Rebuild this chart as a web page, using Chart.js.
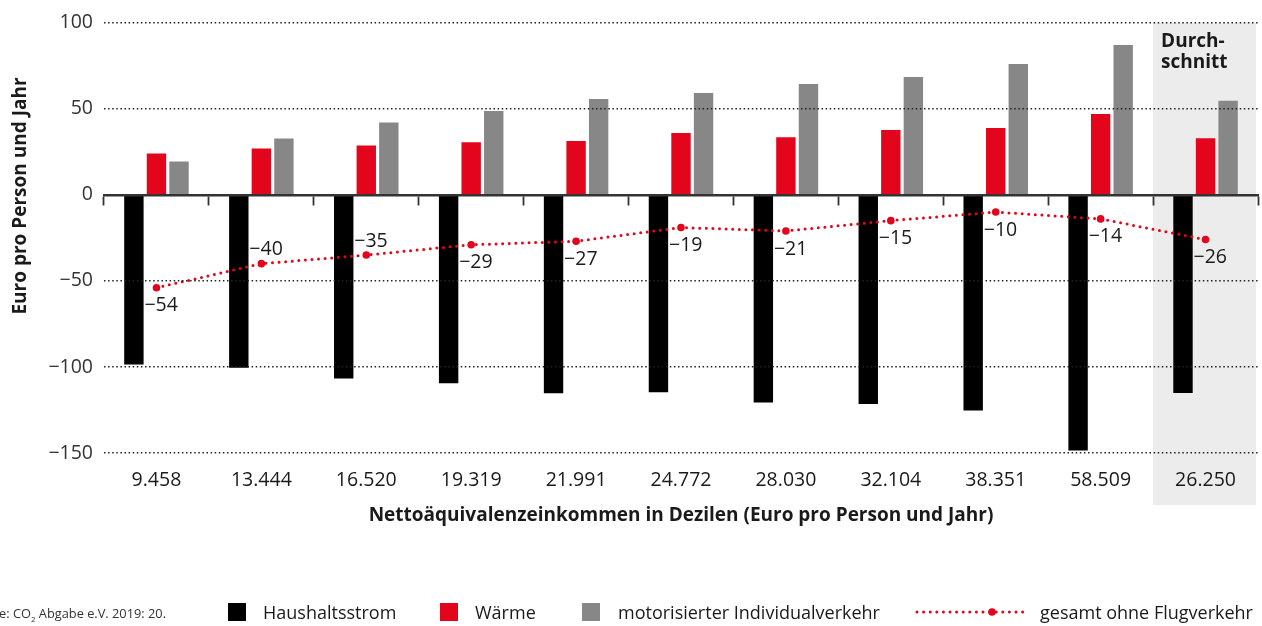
<!DOCTYPE html>
<html lang="de">
<head>
<meta charset="utf-8">
<title>CO2-Abgabe nach Dezilen</title>
<script src="https://cdn.jsdelivr.net/npm/chart.js@4.4.1/dist/chart.umd.min.js"></script>
<style>
  html, body { margin: 0; padding: 0; background: #fff; overflow: hidden; }
  body { width: 1262px; height: 626px; position: relative; font-family: 'Open Sans', sans-serif; color: #1a1a1a; }
  #wrap { position: absolute; left: 0; top: 0; width: 1262px; height: 626px; }
  .quelle { position: absolute; left: -134px; width: 300px; top: 603px; text-align: right; font-size: 12.8px; line-height: 20px; color: #333; white-space: nowrap; }
  .leg { position: absolute; top: 600px; height: 24px; font-size: 18px; line-height: 24px; white-space: nowrap; }
  .box { position: absolute; top: 603px; width: 18px; height: 18px; }
  .dots { position: absolute; left: 914px; top: 607px; }
</style>
</head>
<body>
<div id="wrap"><canvas id="grafica"></canvas></div>

<div class="quelle">Quelle: CO<sub style="font-size:8px">2</sub> Abgabe e.V. 2019: 20.</div>
<div class="box" style="left:228px;background:#000"></div>
<div class="leg" style="left:263px">Haushaltsstrom</div>
<div class="box" style="left:440px;background:#e3051b"></div>
<div class="leg" style="left:475px">Wärme</div>
<div class="box" style="left:582px;background:#878787"></div>
<div class="leg" style="left:618px">motorisierter Individualverkehr</div>
<svg class="dots" width="116" height="10">
  <line x1="3" y1="5" x2="110" y2="5" stroke="#e3051b" stroke-width="3" stroke-linecap="round" stroke-dasharray="0 6.6"/>
  <circle cx="78" cy="5" r="3.8" fill="#e3051b"/>
</svg>
<div class="leg" style="left:1040px">gesamt ohne Flugverkehr</div>

<script>
'use strict';

// Dezile (Nettoäquivalenzeinkommen) + Durchschnitt
const dezile = ['9.458', '13.444', '16.520', '19.319', '21.991', '24.772', '28.030', '32.104', '38.351', '58.509', '26.250'];

// Euro pro Person und Jahr
const haushaltsstrom = [-98.6, -100.5, -106.7, -109.5, -115.3, -114.7, -120.6, -121.6, -125.3, -148.5, -115.2];
const waerme         = [24, 26.9, 28.7, 30.6, 31.2, 35.9, 33.5, 37.6, 38.8, 46.9, 32.9];
const miv            = [19.4, 32.7, 42, 48.7, 55.6, 59.1, 64.4, 68.4, 76, 87, 54.7];
const gesamt         = [-54, -40, -35, -29, -27, -19, -21, -15, -10, -14, -26];

const yTicks = [-150, -100, -50, 0, 50, 100];

const ROT = '#e3051b';
const GRAU = '#878787';
const TEXT = '#1a1a1a';
const minus = v => v < 0 ? '\u2212' + Math.abs(v) : String(v);

// Grauer Hintergrund für "Durchschnitt" + Achsentitel links
const fondoPlugin = {
    id: 'fondo',
    beforeDraw(chart) {
        const { ctx, chartArea, scales } = chart;
        const x = scales.x;
        const ancho = x.getPixelForValue(1) - x.getPixelForValue(0);
        const izq = x.getPixelForValue(dezile.length - 1) - ancho / 2;
        ctx.save();
        ctx.fillStyle = '#ececec';
        ctx.fillRect(izq, chartArea.top, chartArea.right - 2 - izq, 505 - chartArea.top);

        ctx.fillStyle = TEXT;
        ctx.font = 'bold 19px "Open Sans"';
        ctx.textAlign = 'left';
        ctx.textBaseline = 'alphabetic';
        ctx.fillText('Durch-', izq + 8, 47);
        ctx.fillText('schnitt', izq + 8, 68);

        ctx.translate(21, 196);
        ctx.rotate(-Math.PI / 2);
        ctx.textAlign = 'center';
        ctx.textBaseline = 'middle';
        ctx.fillText('Euro pro Person und Jahr', 0, 0);
        ctx.restore();
    }
};

// Etiquetas de la línea "gesamt"
const etiquetasPlugin = {
    id: 'etiquetas',
    afterDatasetsDraw(chart) {
        const { ctx } = chart;
        const meta = chart.getDatasetMeta(3);
        const arriba = [1, 2]; // -40 y -35 van encima del punto
        ctx.save();
        ctx.fillStyle = TEXT;
        ctx.font = '19.5px "Open Sans"';
        ctx.textAlign = 'left';
        ctx.textBaseline = 'middle';
        meta.data.forEach((p, i) => {
            const dy = arriba.includes(i) ? -14 : 18;
            ctx.fillText(minus(gesamt[i]), p.x - 12, p.y + dy);
        });
        ctx.restore();
    }
};

const barra = { categoryPercentage: 0.645, barPercentage: 0.86, order: 1 };

new Chart(document.getElementById('grafica').getContext('2d'), {
    type: 'bar',
    data: {
        labels: dezile,
        datasets: [
            { label: 'Haushaltsstrom', data: haushaltsstrom, backgroundColor: '#000', ...barra },
            { label: 'Wärme', data: waerme, backgroundColor: ROT, ...barra },
            { label: 'motorisierter Individualverkehr', data: miv, backgroundColor: GRAU, ...barra },
            {
                type: 'line',
                label: 'gesamt ohne Flugverkehr',
                data: gesamt,
                borderColor: ROT,
                backgroundColor: ROT,
                borderWidth: 3,
                borderDash: [0, 6.6],
                borderCapStyle: 'round',
                pointRadius: 3.8,
                pointBorderWidth: 0,
                pointBackgroundColor: ROT,
                tension: 0,
                fill: false,
                order: 0
            }
        ]
    },
    options: {
        responsive: true,
        maintainAspectRatio: false,
        animation: false,
        layout: { padding: { top: 21, right: 4, bottom: 93, left: 0 } },
        plugins: { legend: { display: false }, tooltip: { enabled: false } },
        scales: {
            x: {
                grid: { display: false, drawTicks: false },
                border: { display: false },
                ticks: { color: TEXT, font: { family: 'Open Sans', size: 19.5 }, padding: 16, maxRotation: 0, autoSkip: false },
                title: {
                    display: true,
                    text: 'Nettoäquivalenzeinkommen in Dezilen (Euro pro Person und Jahr)',
                    color: TEXT,
                    font: { family: 'Open Sans', size: 19, weight: 'bold' },
                    padding: { top: 0, bottom: 6 }
                },
                afterFit: s => { s.height = 80; }
            },
            x2: {
                type: 'category',
                labels: dezile,
                position: { y: 0 },
                offset: true,
                ticks: { display: false },
                grid: { display: true, drawOnChartArea: false, offset: true, tickLength: 9, tickWidth: 1.8, tickColor: '#333', z: 1 },
                border: { display: true, color: '#333', width: 2.5, z: 1 }
            },
            y: {
                min: -150,
                max: 100,
                afterBuildTicks: s => { s.ticks = yTicks.map(v => ({ value: v })); },
                ticks: { color: '#333', font: { family: 'Open Sans', size: 19.5 }, padding: 11, callback: v => minus(v) },
                grid: {
                    drawTicks: false,
                    lineWidth: 1.5,
                    color: c => (c.tick && c.tick.value === 0) ? 'rgba(0,0,0,0)' : '#222',
                    z: 1
                },
                border: { display: false, dash: [1.5, 2.6] },
                afterFit: s => { s.width = 104; }
            }
        }
    },
    plugins: [fondoPlugin, etiquetasPlugin]
});
</script>
</body>
</html>
